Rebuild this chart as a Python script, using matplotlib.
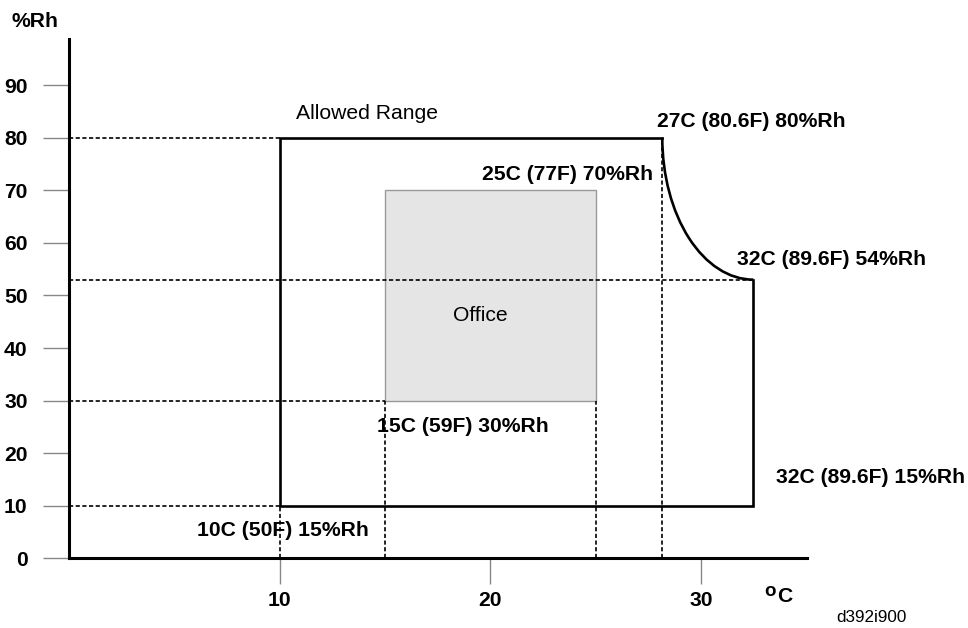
import matplotlib.pyplot as plt
from matplotlib.patches import Rectangle, Arc

plt.rcParams['font.family'] = ['Liberation Sans', 'DejaVu Sans']

# Faixa permitida (temperatura em C, umidade em %Rh)
t_min, t_joelho, t_max = 10, 28.15, 32.47
rh_min, rh_joelho, rh_max = 10, 53, 80

# Faixa de escritorio
office_t = [15, 25]
office_rh = [30, 70]

y_ticks = [0, 10, 20, 30, 40, 50, 60, 70, 80, 90]
x_ticks = [10, 20, 30]

# Linhas de referencia pontilhadas
h_linhas = [(80, 0, 10), (53, 0, 32.47), (30, 0, 15), (10, 0, 10)]   # (y, x0, x1)
v_linhas = [(10, 0, 10), (15, 0, 30), (25, 0, 30), (28.15, 0, 80)]   # (x, y0, y1)

# Rotulos (texto, x, y)
rotulos = [
    ('27C (80.6F) 80%Rh', 27.91, 83.0),
    ('25C (77F) 70%Rh', 19.61, 72.9),
    ('32C (89.6F) 54%Rh', 31.68, 56.9),
    ('15C (59F) 30%Rh', 14.62, 25.1),
    ('10C (50F) 15%Rh', 6.08, 5.4),
    ('32C (89.6F) 15%Rh', 33.53, 15.4),
]

fs = 15.2

fig = plt.figure(figsize=(9.68, 6.28), dpi=100)
ax = fig.add_axes([0.0709, 0.1107, 0.7625, 0.8268])
ax.set_xlim(0, 35)
ax.set_ylim(0, 98.7)

# Escritorio
ax.add_patch(Rectangle((office_t[0], office_rh[0]), office_t[1] - office_t[0],
                       office_rh[1] - office_rh[0], facecolor='#e5e5e5',
                       edgecolor='#999999', linewidth=1, zorder=1))

# Pontilhadas
for y, x0, x1 in h_linhas:
    ax.plot([x0, x1], [y, y], color='black', lw=1.2, ls=(0, (2.5, 1.5)), zorder=2)
for x, y0, y1 in v_linhas:
    ax.plot([x, x], [y0, y1], color='black', lw=1.2, ls=(0, (2.5, 1.5)), zorder=2)

# Contorno da faixa permitida
ax.plot([t_joelho, t_min, t_min, t_max, t_max],
        [rh_max, rh_max, rh_min, rh_min, rh_joelho],
        color='black', lw=1.9, zorder=3, solid_joinstyle='miter')
ax.add_patch(Arc((t_max, rh_max), 2 * (t_max - t_joelho), 2 * (rh_max - rh_joelho),
                 theta1=180, theta2=270, color='black', lw=1.9, zorder=3))

ax.text(10.8, 84.5, 'Allowed Range', fontsize=fs, va='center')
ax.text(19.53, 46.2, 'Office', fontsize=fs, va='center', ha='center')
for txt, x, y in rotulos:
    ax.text(x, y, txt, fontsize=fs, fontweight='bold', va='center')

# Eixos
for s in ['top', 'right']:
    ax.spines[s].set_visible(False)
for s in ['left', 'bottom']:
    ax.spines[s].set_linewidth(2.2)
ax.set_yticks(y_ticks)
ax.set_xticks(x_ticks)
ax.tick_params(axis='y', length=18.5, width=1, color='#888888', pad=11.0,
               labelsize=fs)
ax.tick_params(axis='x', length=18.5, width=1, color='#888888', pad=5,
               labelsize=fs)
for lbl in ax.get_xticklabels() + ax.get_yticklabels():
    lbl.set_fontweight('bold')

fig.text(0.0121, 0.9654, '%Rh', fontsize=fs, fontweight='bold', va='center')
# unidade "ºC": o pequeno elevado junto ao C
fig.text(764 / 968, 1 - 592 / 628, 'o', fontsize=13.5, fontweight='bold', va='center')
fig.text(777 / 968, 1 - 596 / 628, 'C', fontsize=fs, fontweight='bold', va='center')
fig.text(0.8644, 0.0171, 'd392i900', fontsize=12.3, va='center')

plt.savefig('out.png', dpi=100)
